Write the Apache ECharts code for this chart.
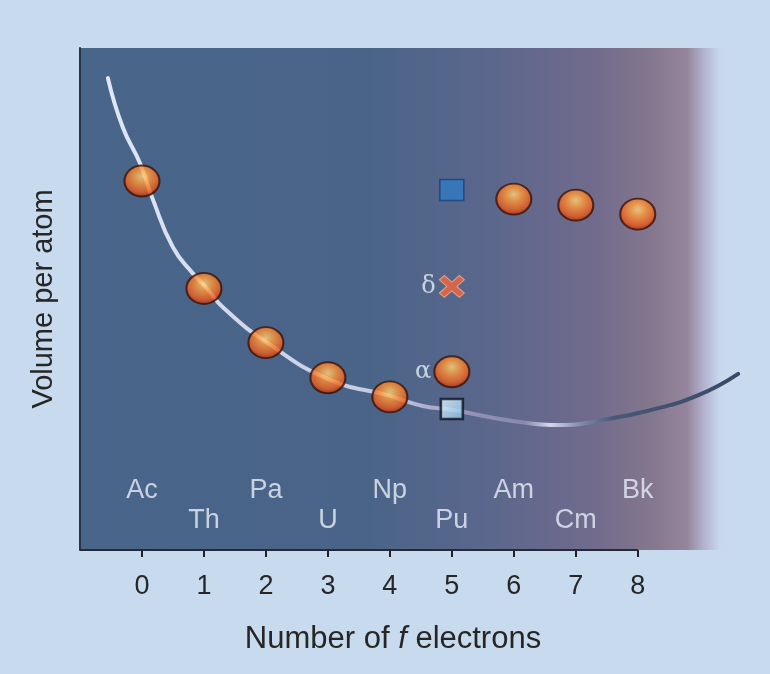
<!DOCTYPE html>
<html>
<head>
<meta charset="utf-8">
<script src="https://cdn.jsdelivr.net/npm/echarts@6/dist/echarts.min.js"></script>
<style>
  html, body { margin: 0; padding: 0; background: #c8dbee; }
  #chart { width: 770px; height: 674px; }
</style>
</head>
<body>
<div id="chart"></div>
<script>
// ---- data ----
const xTicks = [0, 1, 2, 3, 4, 5, 6, 7, 8];
const elements = ['Ac', 'Th', 'Pa', 'U', 'Np', 'Pu', 'Am', 'Cm', 'Bk'];
const fElectrons = [0, 1, 2, 3, 4, 5, 6, 7, 8];
const atomVolume = [73.5, 52.1, 41.3, 34.3, 30.5, 35.5, 69.9, 68.7, 66.9]; // Pu value = alpha phase
const puBlueSquare = 71.7;
const puDelta = 52.5;
const puLightSquare = 28.1;
const curveX = [-0.55, -0.31, -0.03, 0.18, 0.5, 0.82, 1.05, 1.31, 2.02, 3.0, 4.0, 4.53, 5.02, 5.98, 6.85, 7.34, 8.15, 8.95, 9.62];
const curveY = [94.0, 84.2, 77.0, 69.7, 60.3, 55.1, 52.1, 48.3, 41.3, 34.1, 30.7, 28.7, 27.9, 25.7, 24.9, 25.7, 27.7, 30.7, 35.1];

// ---- build ----
const font = '"Liberation Sans", Arial, sans-serif';
const curveData = curveX.map((x, i) => [x, curveY[i]]);
const ballData = fElectrons.map((x, i) => ({
  value: [x, atomVolume[i]],
  label: elements[i] === 'Pu' ? { show: true, formatter: 'α' } : { show: false }
}));
const upperRow = 11.8, lowerRow = 5.8;
const labelData = elements.map((name, i) => ({ value: [fElectrons[i], i % 2 === 0 ? upperRow : lowerRow], name }));

const chart = echarts.init(document.getElementById('chart'));
chart.setOption({
  backgroundColor: '#c8dbee',
  animation: false,
  grid: {
    left: 80, right: 30, top: 48, bottom: 124,
    show: true, borderWidth: 0,
    backgroundColor: {
      type: 'linear', x: 0, y: 0, x2: 1, y2: 0,
      colorStops: [
        { offset: 0, color: '#48658a' },
        { offset: 0.44, color: '#4a6488' },
        { offset: 0.63, color: '#5c678c' },
        { offset: 0.78, color: '#716b8c' },
        { offset: 0.87, color: '#85788e' },
        { offset: 0.92, color: '#95859c' },
        { offset: 0.945, color: '#b3b2cf' },
        { offset: 0.97, color: '#c8d9ee' },
        { offset: 1, color: '#c8dbee' }
      ]
    }
  },
  xAxis: {
    type: 'value', min: -1, max: 9.65,
    splitLine: { show: false },
    axisLine: { show: false },
    axisTick: { show: true, customValues: xTicks, length: 7, lineStyle: { color: '#222', width: 2 } },
    axisLabel: { customValues: xTicks, margin: 23, fontSize: 27, color: '#262626', fontFamily: font },
    name: '{a|Number of }{i|f}{a| electrons}',
    nameLocation: 'middle', nameGap: 74,
    nameTextStyle: {
      padding: [0, 34, 0, 0],
      rich: {
        a: { fontSize: 31, color: '#262626', fontFamily: font },
        i: { fontSize: 31, color: '#262626', fontFamily: font, fontStyle: 'italic' }
      }
    }
  },
  yAxis: {
    type: 'value', min: 0, max: 100,
    splitLine: { show: false },
    axisTick: { show: false },
    axisLabel: { show: false },
    axisLine: { show: true, onZero: false, lineStyle: { color: '#26334a', width: 2 } },
    name: 'Volume per atom', nameLocation: 'middle', nameRotate: 90, nameGap: 22,
    nameTextStyle: { fontSize: 29, color: '#262626', fontFamily: font }
  },
  series: [
    {
      type: 'line', data: [[-1, 0], [8, 0]], showSymbol: false, clip: false, silent: true,
      lineStyle: { color: '#242a38', width: 2 }, z: 3
    },
    {
      type: 'line', data: curveData, smooth: true, showSymbol: false, clip: false,
      lineStyle: {
        width: 4, cap: 'round',
        color: {
          type: 'linear', x: 0, y: 0, x2: 1, y2: 0,
          colorStops: [
            { offset: 0, color: '#dfe7f6' },
            { offset: 0.45, color: '#c4c8e2' },
            { offset: 0.58, color: '#9490b6' },
            { offset: 0.66, color: '#8a88ac' },
            { offset: 0.7, color: '#d4d8ee' },
            { offset: 0.75, color: '#8088a8' },
            { offset: 0.8, color: '#4a5878' },
            { offset: 1, color: '#394866' }
          ]
        }
      }
    },
    {
      type: 'scatter', data: ballData, symbol: 'circle', symbolSize: [35, 31],
      itemStyle: {
        color: {
          type: 'radial', x: 0.5, y: 0.36, r: 0.62,
          colorStops: [
            { offset: 0, color: '#ffd77a' },
            { offset: 0.35, color: '#ff9838' },
            { offset: 0.78, color: '#ea5a1c' },
            { offset: 1, color: '#a82e0e' }
          ]
        },
        borderColor: '#3a1208', borderWidth: 2
      },
      label: { position: 'left', distance: 2, color: '#e6edf8', fontSize: 24, fontFamily: '"DejaVu Serif", serif' },
      z: 5
    },
    {
      type: 'scatter', data: [[5, puBlueSquare]], symbol: 'rect', symbolSize: [24, 21],
      itemStyle: { color: '#2f7cc4', borderColor: '#1a4278', borderWidth: 1.5 }, z: 5
    },
    {
      type: 'scatter', data: [[5, puDelta]],
      symbol: 'path://M0,2 L2,0 L5,3 L8,0 L10,2 L7,5 L10,8 L8,10 L5,7 L2,10 L0,8 L3,5 Z',
      symbolSize: [25, 22],
      itemStyle: { color: '#f2683e', borderColor: '#f7b08c', borderWidth: 1 },
      label: { show: true, formatter: 'δ', position: 'left', distance: 3, color: '#e6edf8', fontSize: 24, fontFamily: '"DejaVu Serif", serif' },
      z: 5
    },
    {
      type: 'scatter', data: [[5, puLightSquare]], symbol: 'rect', symbolSize: [22, 20],
      itemStyle: {
        color: {
          type: 'linear', x: 0, y: 0, x2: 1, y2: 1,
          colorStops: [{ offset: 0, color: '#f0fbff' }, { offset: 1, color: '#7fbde8' }]
        },
        borderColor: '#0e1420', borderWidth: 2.5
      },
      z: 5
    },
    {
      type: 'scatter', data: labelData, symbolSize: 1, itemStyle: { color: 'rgba(0,0,0,0)' },
      label: { show: true, position: 'inside', formatter: p => p.name, color: '#e8eef8', fontSize: 27, fontFamily: font },
      z: 4
    }
  ]
});
</script>
</body>
</html>
